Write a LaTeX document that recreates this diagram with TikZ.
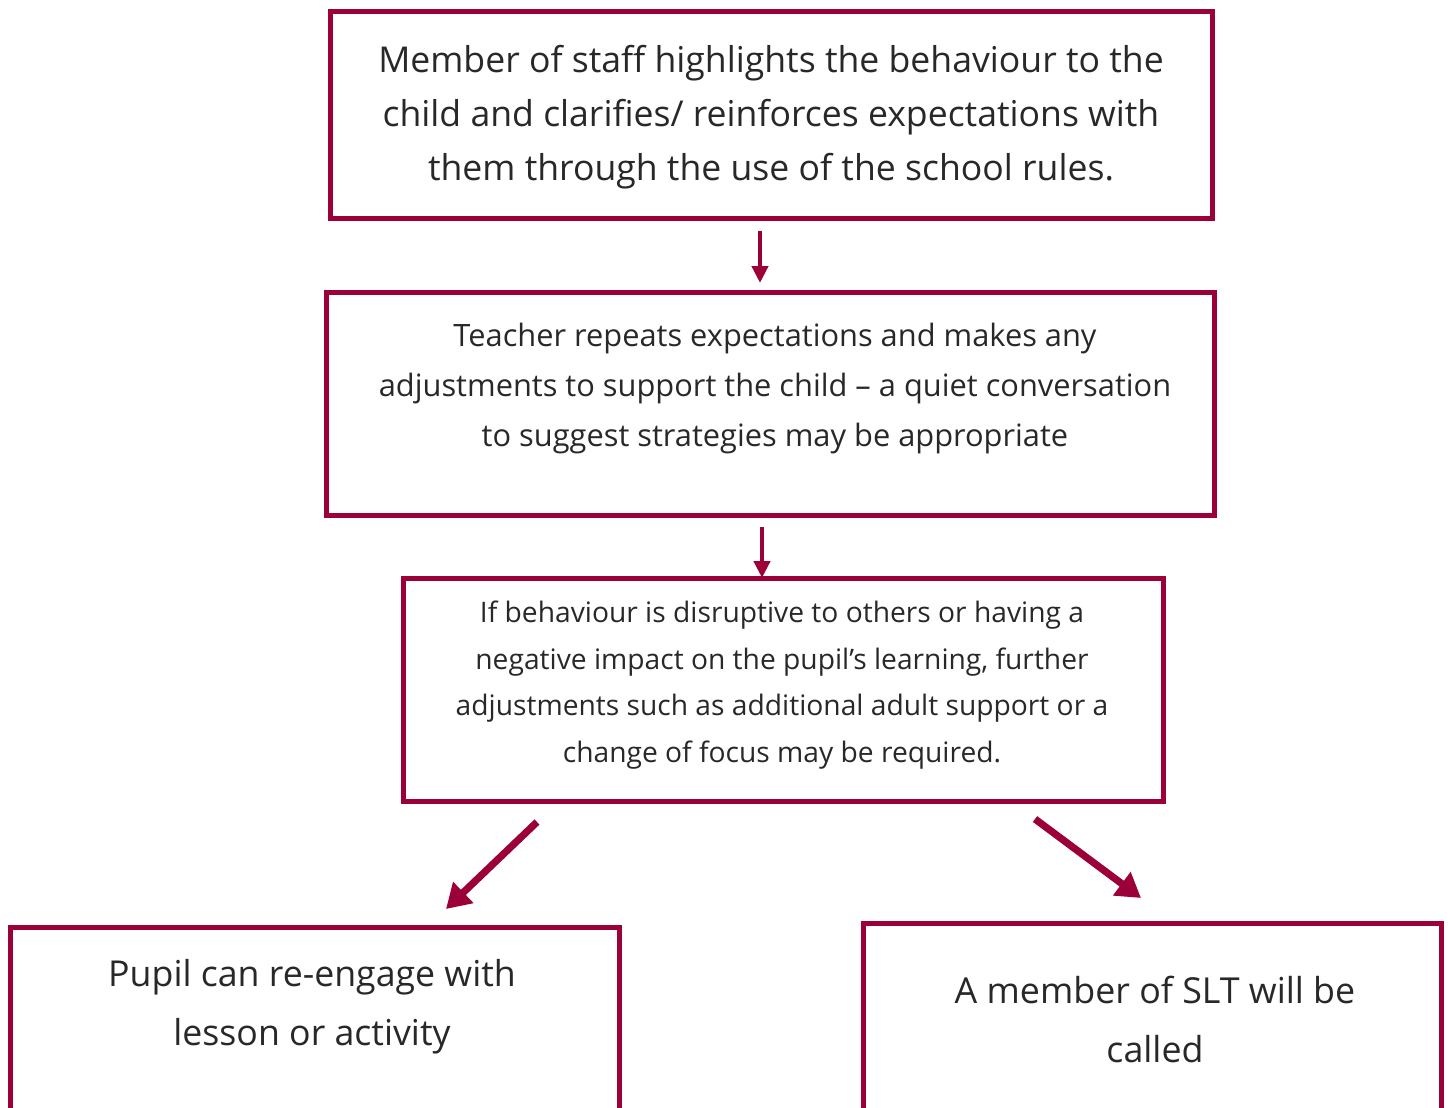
\documentclass[tikz,border=0pt]{standalone}
\usepackage{fontspec}
\setmainfont{Open Sans}
\usetikzlibrary{arrows.meta}
\definecolor{crim}{RGB}{155,0,56}
\definecolor{txt}{RGB}{40,40,40}
\tikzset{
  box/.style={draw=crim, line width=2.5pt, rectangle, inner sep=0pt},
  lbl/.style={text=txt, align=center, inner sep=0pt},
  arrv/.style={draw=crim, line width=2.2pt, -{Triangle[length=8.5pt,width=8pt]}},
  arrd/.style={draw=crim, line width=3.6pt, -{Triangle[length=12pt,width=14pt]}}
}
\begin{document}
\begin{tikzpicture}[x=0.5pt,y=-0.5pt]
\useasboundingbox (0,0) rectangle (1448,1108);
\clip (0,0) rectangle (1448,1108);
% boxes
\node[box, minimum width=441pt, minimum height=103.5pt] (b1) at (771,114.5) {};
\node[box, minimum width=444pt, minimum height=111.5pt] (b2) at (770,403.5) {};
\node[box, minimum width=380pt, minimum height=111.5pt] (b3) at (783,689.5) {};
\node[box, minimum width=304.5pt, minimum height=110pt] (b4) at (314.5,1037) {};
\node[box, minimum width=289pt, minimum height=110pt] (b5) at (1152,1033) {};
% texts
\node[lbl, font=\fontsize{17.8}{27}\selectfont] (t1) at (771,117) {Member of staff highlights the behaviour to the\\child and clarifies/ reinforces expectations with\\them through the use of the school rules.};
\node[lbl, font=\fontsize{15.4}{25}\selectfont] (t2) at (775,388) {Teacher repeats expectations and makes any\\adjustments to support the child -- a quiet conversation\\to suggest strategies may be appropriate};
\node[lbl, font=\fontsize{14.1}{23.3}\selectfont] (t3) at (782,685) {If behaviour is disruptive to others or having a\\negative impact on the pupil’s learning, further\\adjustments such as additional adult support or a\\change of focus may be required.};
\node[lbl, font=\fontsize{17.85}{29.5}\selectfont] (t4) at (312,1006.5) {Pupil can re-engage with\\lesson or activity};
\node[lbl, font=\fontsize{17.9}{29.5}\selectfont] (t5) at (1155,1019.5) {A member of SLT will be\\called};
% arrows
\coordinate (a1s) at (760,231); \coordinate (a1e) at (760,283);
\coordinate (a2s) at (762,527); \coordinate (a2e) at (762,578);
\coordinate (a3s) at (537,822); \coordinate (a3e) at (446,909);
\coordinate (a4s) at (1035,819); \coordinate (a4e) at (1141,898);
\draw[arrv] (a1s) -- (a1e);
\draw[arrv] (a2s) -- (a2e);
\draw[arrd] (a3s) -- (a3e);
\draw[arrd] (a4s) -- (a4e);
\end{tikzpicture}
\end{document}
